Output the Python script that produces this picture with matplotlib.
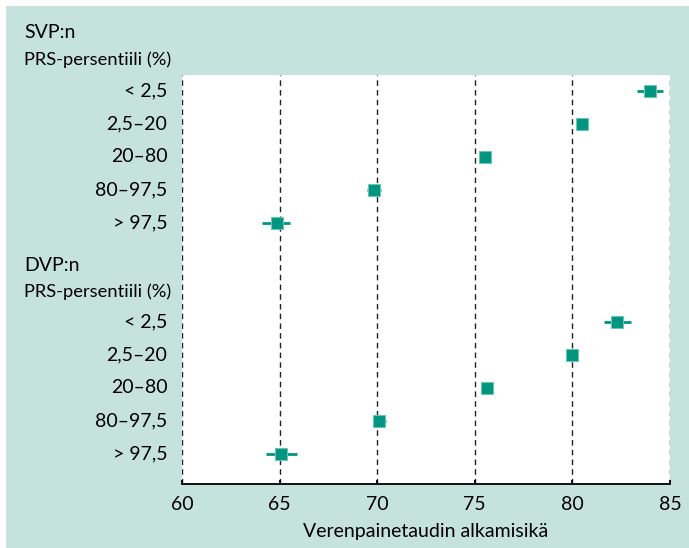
import numpy as np
import matplotlib
matplotlib.use("Agg")
import matplotlib.pyplot as plt
from matplotlib.patches import Rectangle

plt.rcParams["font.family"] = ["Lato", "DejaVu Sans"]

# data
groups = ["SVP:n", "DVP:n"]
header = "PRS-persentiili (%)"
categories = ["< 2,5", "2,5\u201320", "20\u201380", "80\u201397,5", "> 97,5"]
svp_age = [84.0, 80.5, 75.5, 69.85, 64.85]
svp_lo = [83.3, 80.3, 75.3, 69.5, 64.1]
svp_hi = [84.65, 80.75, 75.7, 70.2, 65.55]
dvp_age = [82.3, 80.0, 75.6, 70.1, 65.05]
dvp_lo = [81.6, 79.8, 75.4, 69.8, 64.3]
dvp_hi = [83.0, 80.2, 75.8, 70.45, 65.9]
xticks = [60, 65, 70, 75, 80, 85]

teal = "#009580"
bg = "#c6e2dc"
fs = 14

fig = plt.figure(figsize=(6.89, 5.48), dpi=100)
fig.patch.set_facecolor("white")
fig.patches.append(Rectangle((6 / 689, 0), 1, 542 / 548, transform=fig.transFigure,
                             facecolor=bg, edgecolor="none", zorder=-10))

ax = fig.add_axes([182 / 689, 64 / 548, 488 / 689, 409 / 548])
ax.set_facecolor("white")

rows_svp = np.arange(5)
rows_dvp = np.arange(5) + 7

for rows, age, lo, hi in [(rows_svp, svp_age, svp_lo, svp_hi),
                          (rows_dvp, dvp_age, dvp_lo, dvp_hi)]:
    age = np.array(age)
    err = [age - np.array(lo), np.array(hi) - age]
    ax.errorbar(age, rows, xerr=err, fmt="s", color=teal, ms=8.5,
                mec="#6cc4b3", mew=0.8, elinewidth=2, capsize=0, zorder=3)

ax.set_xlim(60, 85)
ax.set_ylim(11.91, -0.485)
ax.set_xticks(xticks)
ax.set_xticklabels([str(t) for t in xticks], fontsize=fs)
ax.set_yticks([])
for t in xticks:
    ax.axvline(t, color="#222222", lw=1, ls=(0, (4, 3)), zorder=1)

for s in ["top", "left", "right"]:
    ax.spines[s].set_visible(False)
ax.spines["bottom"].set_linewidth(1.3)
ax.tick_params(axis="x", direction="in", length=3, width=1.3, pad=9)
ax.set_xlabel("Verenpainetaudin alkamisik\u00e4", fontsize=fs, labelpad=7)

for rows in [rows_svp, rows_dvp]:
    for r, c in zip(rows, categories):
        ax.text(-0.03, r, c, transform=ax.get_yaxis_transform(), ha="right",
                va="center", fontsize=fs, clip_on=False)

header_y = [(-1.76, -0.94), (5.3, 6.09)]
for g, (y1, y2) in zip(groups, header_y):
    ax.annotate(g, xy=(24, y1), xycoords=("figure pixels", "data"),
                va="center", ha="left", fontsize=fs, annotation_clip=False)
    ax.annotate(header, xy=(24, y2), xycoords=("figure pixels", "data"),
                va="center", ha="left", fontsize=13.2, annotation_clip=False)

fig.savefig("out.png", dpi=100, facecolor=fig.get_facecolor())
